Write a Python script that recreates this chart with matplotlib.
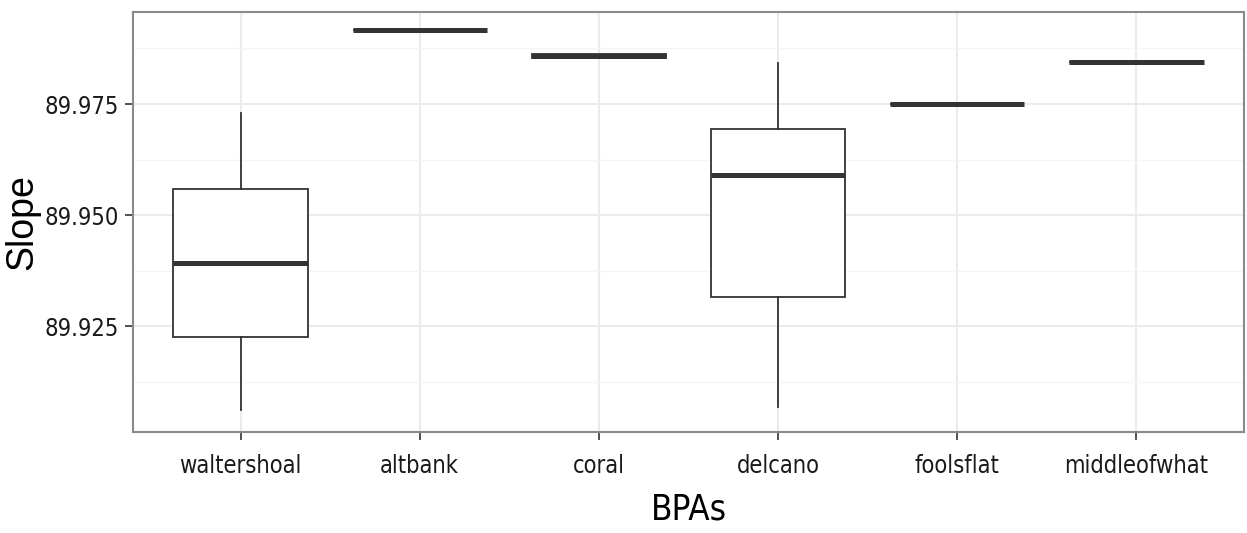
import matplotlib
matplotlib.use("Agg")
import matplotlib.pyplot as plt
from matplotlib import font_manager as fm
from matplotlib.ticker import MultipleLocator

# values (slope per BPA)
bpas = ["waltershoal", "altbank", "coral", "delcano", "foolsflat", "middleofwhat"]
whislo = [89.9061, 89.9917, 89.9854, 89.9068, 89.9750, 89.9845]
q1 = [89.9225, 89.9917, 89.9854, 89.9315, 89.9750, 89.9845]
med = [89.9392, 89.9917, 89.9858, 89.9590, 89.9750, 89.9845]
q3 = [89.9559, 89.9917, 89.9862, 89.9694, 89.9750, 89.9845]
whishi = [89.9730, 89.9917, 89.9862, 89.9842, 89.9750, 89.9845]

dark = "#333333"


def narrow_font():
    # the reference uses a condensed sans; take one if the system has it
    best = None
    for f in fm.fontManager.ttflist:
        narrow = ("Narrow" in f.name or "Condensed" in f.name
                  or str(f.stretch) in ("condensed", "semi-condensed"))
        if not narrow or f.style != "normal" or f.weight not in (400, "normal", "regular"):
            continue
        if "Mono" in f.name or "Serif" in f.name:
            continue
        if best is None or "Liberation" in f.name:
            best = f
    if best is not None:
        return fm.FontProperties(fname=best.fname)
    return fm.FontProperties(family="Liberation Sans")


fp = narrow_font()

stats = []
for i, name in enumerate(bpas):
    stats.append(dict(label=name, whislo=whislo[i], q1=q1[i], med=med[i],
                      q3=q3[i], whishi=whishi[i], fliers=[]))

fig = plt.figure(figsize=(12.47, 5.33), dpi=100)
ax = fig.add_axes([133/1247, 101/533, 1111/1247, 420/533])
renderer = fig.canvas.get_renderer()


def fit_size(text, width_px, start, cap):
    t = fig.text(0, 0, text, fontproperties=fp, size=start)
    w = t.get_window_extent(renderer).width
    t.remove()
    return min(cap, start * width_px / w)


tick_size = fit_size("waltershoal", 123, 21, 23)
title_size = fit_size("BPAs", 76, 27, 28)

ax.bxp(stats, positions=range(1, len(bpas) + 1), widths=0.75, showcaps=False,
       patch_artist=True,
       boxprops=dict(facecolor="white", edgecolor=dark, linewidth=1.3),
       whiskerprops=dict(color=dark, linewidth=1.3),
       medianprops=dict(color=dark, linewidth=3.6, solid_capstyle="butt"),
       zorder=3)

ax.set_xlim(0.4, len(bpas) + 0.6)
ax.set_ylim(89.90113, 89.99572)
ax.yaxis.set_major_locator(MultipleLocator(0.025))
ax.yaxis.set_minor_locator(MultipleLocator(0.0125))
ax.yaxis.set_major_formatter(plt.FormatStrFormatter("%.3f"))

ax.grid(True, which="major", color="#ebebeb", linewidth=1.5, zorder=0)
ax.grid(True, which="minor", axis="y", color="#f5f5f5", linewidth=1.0, zorder=0)
ax.set_axisbelow(True)
ax.tick_params(which="minor", length=0)
ax.tick_params(which="major", length=6, width=1.2, color=dark, pad=4)
ax.tick_params(axis="x", which="major", pad=10)

for lab in ax.get_xticklabels() + ax.get_yticklabels():
    lab.set_fontproperties(fp)
    lab.set_fontsize(tick_size)
    lab.set_color("#1a1a1a")

for s in ax.spines.values():
    s.set_color("#8a8a8a")
    s.set_linewidth(1.5)

ax.set_xlabel("BPAs", fontproperties=fp, fontsize=title_size, labelpad=10)
ax.set_ylabel("Slope", family=["Liberation Sans", "DejaVu Sans"], fontsize=27)
ax.yaxis.set_label_coords(-0.083, 0.5)

fig.savefig("out.png", dpi=100)
